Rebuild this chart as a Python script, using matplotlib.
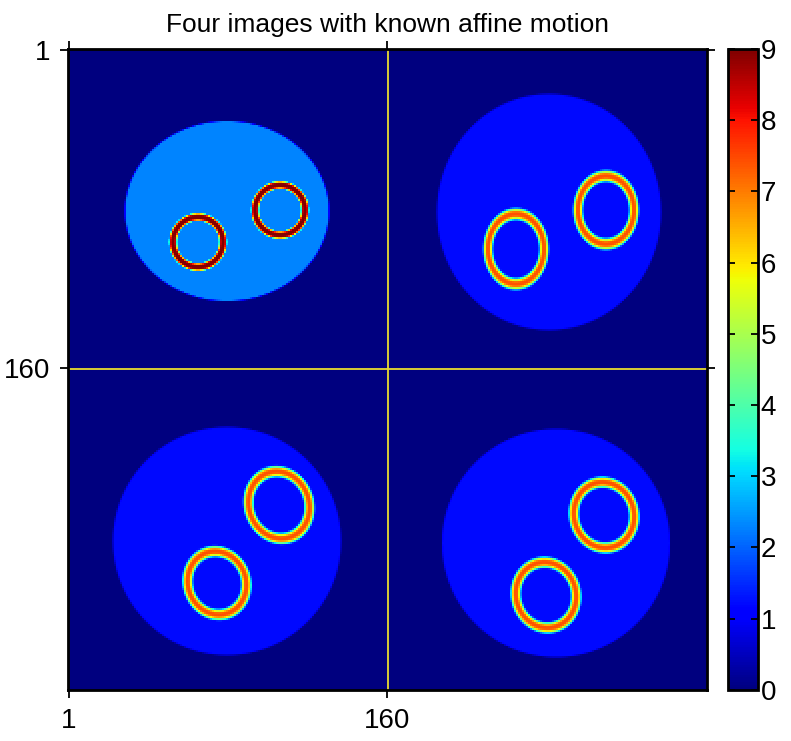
import numpy as np
import matplotlib
matplotlib.use("Agg")
import matplotlib.pyplot as plt

plt.rcParams["font.family"] = ["Liberation Sans", "DejaVu Sans"]

# image geometry
N = 160                       # size of one sub-image
quad_offsets = [(0, 0), (160, 0), (0, 160), (160, 160)]   # (col, row) offsets

# background disk per quadrant: centre (col,row), semi-axes, level
disk_cx = [80.0, 81.0, 80.0, 84.5]
disk_cy = [81.5, 82.0, 86.0, 87.0]
disk_a = [51.0, 56.0, 57.0, 57.0]
disk_b = [45.0, 59.0, 57.0, 57.0]
disk_level = [2.3, 1.2, 1.2, 1.2]

# two rings per quadrant: centre, semi-axes, tilt (deg), peak, half-width
ring_cx = [[65.5, 106.5], [64.5, 109.5], [75.0, 106.0], [79.5, 108.5]]
ring_cy = [[97.0, 81.0], [100.5, 81.0], [107.0, 68.0], [113.0, 73.0]]
ring_a = [[12.5, 12.5], [14.0, 14.0], [14.5, 15.0], [15.0, 15.0]]
ring_b = [[12.5, 12.5], [17.5, 17.0], [16.0, 17.0], [16.5, 16.5]]
ring_tilt = [[0, 0], [0, 0], [-20, -20], [-15, -15]]
ring_peak = [9.0, 7.4, 7.4, 7.4]
ring_width = [2.0, 2.6, 2.6, 2.6]
ring_power = [4, 3, 3, 3]

tick_vals = [1, 160]
cbar_ticks = list(range(10))


def make_image():
    img = np.zeros((2 * N, 2 * N))
    rr, cc = np.mgrid[1:N + 1, 1:N + 1].astype(float)
    for q, (oc, orow) in enumerate(quad_offsets):
        r = np.sqrt(((cc - disk_cx[q]) / disk_a[q]) ** 2 + ((rr - disk_cy[q]) / disk_b[q]) ** 2)
        edge = np.clip((1 - r) * (disk_a[q] + disk_b[q]) / 2 + 0.5, 0, 1)
        sub = disk_level[q] * edge
        for k in range(2):
            t = np.deg2rad(ring_tilt[q][k])
            dx, dy = cc - ring_cx[q][k], rr - ring_cy[q][k]
            u = dx * np.cos(t) + dy * np.sin(t)
            v = -dx * np.sin(t) + dy * np.cos(t)
            rn = np.sqrt((u / ring_a[q][k]) ** 2 + (v / ring_b[q][k]) ** 2)
            d = (rn - 1) * (ring_a[q][k] + ring_b[q][k]) / 2
            ring = ring_peak[q] * np.exp(-np.abs(d / ring_width[q]) ** ring_power[q])
            sub = np.maximum(sub, ring)
        img[orow:orow + N, oc:oc + N] = sub
    return img


img = make_image()

fig = plt.figure(figsize=(7.91, 7.41), dpi=100)
ax = fig.add_axes([0.086, 0.069, 0.808, 0.865])
im = ax.imshow(img, cmap="jet", vmin=0, vmax=9, interpolation="nearest",
               extent=(0.5, 2 * N + 0.5, 2 * N + 0.5, 0.5), aspect="auto")
ax.axvline(N + 0.5, color="#e8dc30", lw=1.3)
ax.axhline(N + 0.5, color="#e8dc30", lw=1.3)
ax.set_xticks(tick_vals); ax.set_yticks(tick_vals)
ax.tick_params(direction="out", length=6, width=1.3, labelsize=20,
               top=True, right=True, pad=7)
for s in ax.spines.values():
    s.set_linewidth(2)
ax.set_title("Four images with known affine motion", fontsize=19, pad=12)

cax = fig.add_axes([0.920, 0.069, 0.038, 0.865])
cb = fig.colorbar(im, cax=cax, ticks=cbar_ticks)
cb.ax.tick_params(direction="in", length=5, width=1.3, labelsize=20,
                  left=True, right=True, pad=2)
cb.outline.set_linewidth(2)

fig.savefig("out.png", dpi=100)
